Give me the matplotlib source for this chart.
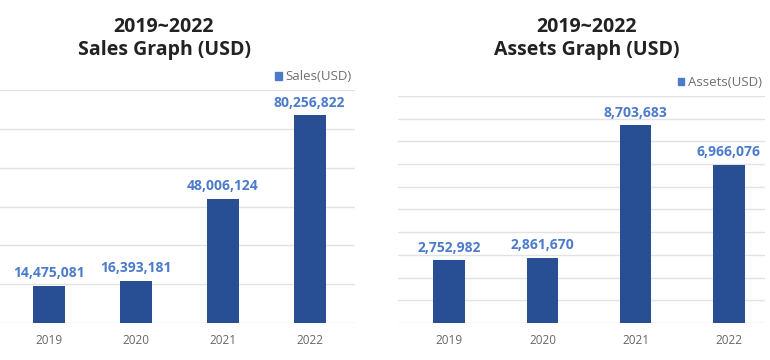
import matplotlib
matplotlib.use("Agg")
import matplotlib.pyplot as plt
from matplotlib.patches import Patch

years = ["2019", "2020", "2021", "2022"]
sales = [14475081, 16393181, 48006124, 80256822]
assets = [2752982, 2861670, 8703683, 6966076]

sales_ticks = [0, 15e6, 30e6, 45e6, 60e6, 75e6, 90e6]
assets_ticks = [i * 1e6 for i in range(11)]

BAR = "#284f94"
LABEL = "#4c7bcb"
GRID = "#e3e3e3"
FONT = ["Open Sans", "DejaVu Sans"]

plt.rcParams["font.family"] = FONT

fig = plt.figure(figsize=(7.7, 3.6), dpi=100)


def panel(rect, values, ticks, xlim, width, legend_name, title, title_x):
    ax = fig.add_axes(rect)
    x = list(range(len(years)))
    bars = ax.bar(x, values, width=width, color=BAR, zorder=3)
    ax.bar_label(bars, labels=[f"{v:,}" for v in values], padding=4,
                 color=LABEL, fontweight="bold", fontsize=10)
    ax.set_ylim(ticks[0], ticks[-1])
    ax.set_xlim(*xlim)
    for t in ticks:
        ax.axhline(t, color="#d8d8d8" if t == 0 else GRID, lw=1, zorder=1)
    ax.set_yticks([])
    ax.set_xticks(x)
    ax.set_xticklabels(years, fontsize=8.5, color="#666666")
    ax.tick_params(axis="x", length=0, pad=8)
    for s in ax.spines.values():
        s.set_visible(False)
    ax.legend(handles=[Patch(color=LABEL, label=legend_name)],
              loc="lower right", bbox_to_anchor=(1.01, 1.0), frameon=False,
              handlelength=0.5, handleheight=0.5, handletextpad=0.3,
              borderaxespad=0.1, labelcolor="#707070", fontsize=9.5)
    fig.text(title_x, 0.926, "2019~2022", ha="center", va="center",
             fontsize=14, fontweight="bold", color="#222222")
    fig.text(title_x, 0.862, title, ha="center", va="center",
             fontsize=14, fontweight="bold", color="#222222")
    return ax


panel([0.0, 0.1028, 0.461, 0.647], sales, sales_ticks, (-0.56, 3.52), 0.37,
      "Sales(USD)", "Sales Graph (USD)", 164 / 770)
panel([0.517, 0.1028, 0.4766, 0.6306], assets, assets_ticks, (-0.55, 3.39), 0.34,
      "Assets(USD)", "Assets Graph (USD)", 587 / 770)

fig.savefig("out.png", dpi=100)
